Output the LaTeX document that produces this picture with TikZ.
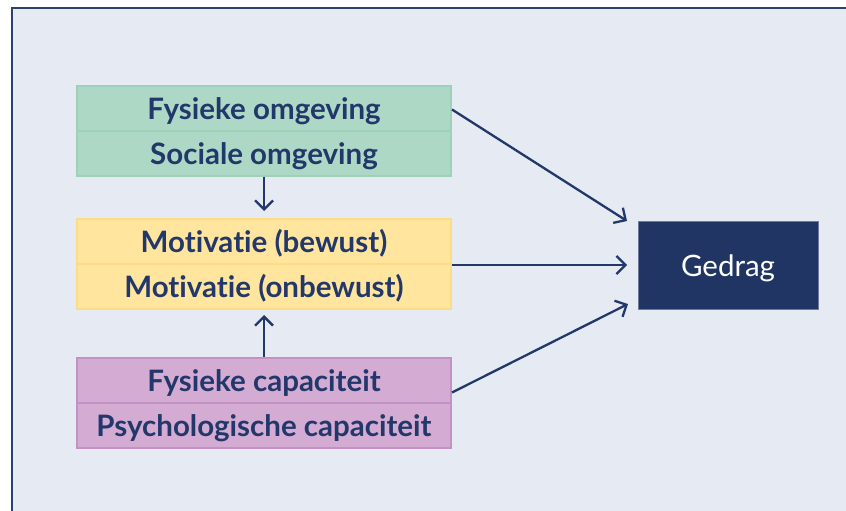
\documentclass[tikz,border=0pt]{standalone}
\usepackage{fontspec}
\setmainfont{Lato}[Ligatures={NoCommon}]
\usetikzlibrary{arrows.meta}
\definecolor{bgc}{HTML}{E6EAF2}
\definecolor{framec}{HTML}{2E4270}
\definecolor{navy}{HTML}{22376A}
\definecolor{gedragc}{HTML}{213564}
\definecolor{greenf}{HTML}{AED8C6}
\definecolor{greend}{HTML}{9FD0B8}
\definecolor{yellowf}{HTML}{FFE59E}
\definecolor{yellowd}{HTML}{FDDC86}
\definecolor{purplef}{HTML}{D4ABD2}
\definecolor{purpled}{HTML}{C492C2}
\tikzset{
  cell/.style={rectangle, minimum width=374pt, minimum height=45pt, inner sep=0pt,
    text height=22.5pt, text depth=0pt,
    line width=2pt, font=\fontsize{29.5}{32}\selectfont\bfseries, text=navy},
  gcell/.style={cell, fill=greenf, draw=greend},
  ycell/.style={cell, fill=yellowf, draw=yellowd},
  pcell/.style={cell, fill=purplef, draw=purpled},
  conn/.style={draw=navy, line width=2.3pt, -{Straight Barb[length=9pt,width=18pt,line width=2.3pt]}},
}
\begin{document}
\begin{tikzpicture}[x=1pt,y=-1pt]
\useasboundingbox (0,0) rectangle (846,511);
\begin{scope}
\clip (0,0) rectangle (846,511);
\draw[fill=bgc, draw=framec, line width=2.2pt] (12,8) rectangle (870,540);
\end{scope}
\node[gcell] (g1) at (264,108) {Fysieke omgeving};
\node[gcell] (g2) at (264,153) {Sociale omgeving};
\node[ycell] (y1) at (264,241) {Motivatie (bewust)};
\node[ycell] (y2) at (264,286) {Motivatie (onbewust)};
\node[pcell] (p1) at (264,380) {Fysieke capaciteit};
\node[pcell] (p2) at (264,425) {Psychologische capaciteit};
\node[rectangle, fill=gedragc, draw=framec!70, line width=1pt, minimum width=180pt, minimum height=88pt,
  text height=22.5pt, text depth=0pt,
  text=white, font=\fontsize{29.5}{32}\selectfont] (gd) at (728,265) {Gedrag};
\coordinate (t1) at (627,221);
\coordinate (t2) at (627,265);
\coordinate (t3) at (628,304);
\coordinate (vt1) at (264,211);
\coordinate (vt2) at (264,315);
\path (g2.north east) ++(0,-20) coordinate (s1);
\path (y2.east) ++(0,-21) coordinate (s2);
\path (p2.north east) ++(0,-9) coordinate (s3);
\path[conn] (s1) -- (t1);
\path[conn] (s2) -- (t2);
\path[conn] (s3) -- (t3);
\path[conn] (g2.south) -- (vt1);
\path[conn] (p1.north) -- (vt2);
\end{tikzpicture}
\end{document}
